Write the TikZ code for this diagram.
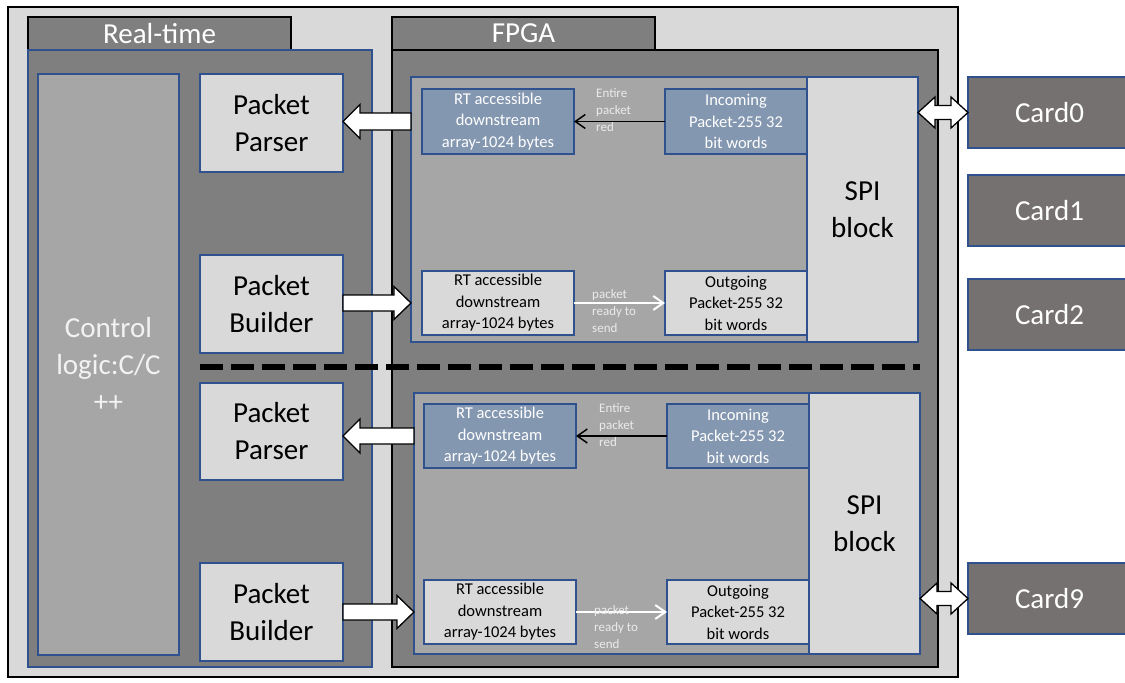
\documentclass[tikz,border=0pt]{standalone}
\usepackage{fontspec}
\setmainfont{Carlito}
\usepackage{xcolor}
\usepackage{tikz}
\usetikzlibrary{arrows.meta, calc}

\definecolor{lightgrey}{HTML}{D9D9D9}
\definecolor{darkgrey}{HTML}{7F7F7F}
\definecolor{midgrey}{HTML}{A6A6A6}
\definecolor{slateblue}{HTML}{8497B0}
\definecolor{cardgrey}{HTML}{767171}
\definecolor{edgeblue}{HTML}{2F528F}

\newcommand{\bigtxt}{\fontsize{29}{37}\selectfont}
\newcommand{\boxtxt}{\fontsize{16.5}{21.5}\selectfont}
\newcommand{\tinytxt}{\fontsize{13}{17}\selectfont}

% white block arrow: tail, tip, half shaft, half head, head length
\newcommand{\blockarrow}[5]{%
  \draw[blockarr] let \p1=#1, \p2=#2, \n1={sign(\x2-\x1)} in
    (\x1,\y1+#3) -- (\x2-\n1*#5,\y1+#3) -- (\x2-\n1*#5,\y1+#4) -- (\x2,\y1)
    -- (\x2-\n1*#5,\y1-#4) -- (\x2-\n1*#5,\y1-#3) -- (\x1,\y1-#3) -- cycle;}

% white double block arrow between two points
\newcommand{\dblarrow}[2]{%
  \draw[blockarr] let \p1=#1, \p2=#2 in
    (\x1,\y1) -- (\x1+17pt,\y1+15.5pt) -- (\x1+17pt,\y1+7pt) -- (\x2-17pt,\y1+7pt)
    -- (\x2-17pt,\y1+15.5pt) -- (\x2,\y1) -- (\x2-17pt,\y1-15.5pt)
    -- (\x2-17pt,\y1-7pt) -- (\x1+17pt,\y1-7pt) -- (\x1+17pt,\y1-15.5pt) -- cycle;}

\begin{document}
\begin{tikzpicture}[
  x=1pt, y=-1pt,
  box/.style={
    rectangle,
    anchor=north west,
    inner sep=0pt,
    outer sep=0pt,
    align=center
  },
  frame/.style={
    box,
    draw=black,
    line width=1.5pt
  },
  tab/.style={
    frame,
    fill=darkgrey,
    text=white,
    font=\bigtxt,
    minimum width=263,
    minimum height=33
  },
  panel/.style={
    box,
    draw=edgeblue,
    line width=1.3pt
  },
  module/.style={
    panel,
    fill=lightgrey,
    font=\bigtxt,
    minimum width=143
  },
  rtbox/.style={
    panel,
    font=\boxtxt,
    minimum width=152,
    minimum height=64
  },
  pktbox/.style={
    panel,
    font=\boxtxt,
    minimum width=142,
    minimum height=64
  },
  card/.style={
    panel,
    fill=cardgrey,
    text=white,
    font=\bigtxt,
    minimum width=163,
    minimum height=71
  },
  note/.style={
    anchor=west,
    align=left,
    inner sep=0pt,
    font=\tinytxt,
    text=white!92!black
  },
  readarr/.style={
    draw=black,
    line width=1.5pt,
    -{Straight Barb[length=10pt, width=14pt]}
  },
  sendarr/.style={
    draw=white,
    line width=2pt,
    -{Straight Barb[length=10pt, width=14pt]}
  },
  blockarr/.style={
    draw=black,
    fill=white,
    line width=1.3pt,
    line join=miter
  }
]
\useasboundingbox (0,0) rectangle (1125,683);

% -------------------------------------------------------------------
% outer frame and the two halves
% -------------------------------------------------------------------
\node[frame, fill=lightgrey, minimum width=950, minimum height=670] (outer) at (8,7) {};

\node[tab] (rttab) at (28,17) {Real-time};
\node[panel, fill=darkgrey, minimum width=344, minimum height=617] (rt) at (28,50) {};

\node[tab] (fpgatab) at (392,17) {FPGA};
\node[frame, fill=darkgrey, minimum width=546, minimum height=617] (fpga) at (392,50) {};

% -------------------------------------------------------------------
% Real-time side
% -------------------------------------------------------------------
\node[panel, fill=midgrey, text=white!95!black, font=\bigtxt,
  minimum width=141, minimum height=581] (ctrl) at (38,74)
{Control\\logic:C/C\\++};

\node[module, minimum height=98] (pp1) at (200,74) {Packet\\Parser};
\node[module, minimum height=98] (pb1) at (200,255) {Packet\\Builder};
\node[module, minimum height=97] (pp2) at (200,383) {Packet\\Parser};
\node[module, minimum height=98] (pb2) at (200,563) {Packet\\Builder};

% -------------------------------------------------------------------
% FPGA side, channel 0
% -------------------------------------------------------------------
\node[panel, fill=midgrey, minimum width=507, minimum height=265] (inner1) at (411,77) {};

\node[rtbox, fill=slateblue, text=white, minimum height=65] (rtin1) at (422,89)
{RT accessible\\downstream\\array-1024 bytes};
\node[pktbox, fill=slateblue, text=white, minimum height=65] (inc1) at (665,89)
{Incoming\\Packet-255 32\\bit words};

\node[rtbox, fill=lightgrey] (rtout1) at (422,271)
{RT accessible\\downstream\\array-1024 bytes};
\node[pktbox, fill=lightgrey] (out1) at (665,271)
{Outgoing\\Packet-255 32\\bit words};

\node[panel, fill=lightgrey, font=\bigtxt, minimum width=111, minimum height=265] (spi1) at (807,77)
{SPI\\block};

\draw[readarr] (inc1.west) -- (rtin1.east);
\node[note] (red1) at (596,110) {Entire\\packet\\red};
\draw[sendarr] (rtout1.east) -- (out1.west);
\node[note] (rdy1) at (592,311) {packet\\ready to\\send};

% -------------------------------------------------------------------
% FPGA side, channel 9
% -------------------------------------------------------------------
\node[panel, fill=midgrey, minimum width=506, minimum height=261] (inner2) at (414,393) {};

\node[rtbox, fill=slateblue, text=white] (rtin2) at (424,404)
{RT accessible\\downstream\\array-1024 bytes};
\node[pktbox, fill=slateblue, text=white] (inc2) at (667,404)
{Incoming\\Packet-255 32\\bit words};

\node[rtbox, fill=lightgrey] (rtout2) at (424,580)
{RT accessible\\downstream\\array-1024 bytes};
\node[pktbox, fill=lightgrey] (out2) at (667,580)
{Outgoing\\Packet-255 32\\bit words};

\node[panel, fill=lightgrey, font=\bigtxt, minimum width=111, minimum height=261] (spi2) at (809,393)
{SPI\\block};

\draw[readarr] (inc2.west) -- (rtin2.east);
\node[note] (red2) at (599,425) {Entire\\packet\\red};
\draw[sendarr] (rtout2.east) -- (out2.west);
\node[note] (rdy2) at (594,627) {packet\\ready to\\send};

% separator between the channels
\coordinate (sepL) at (200,367);
\coordinate (sepR) at (920,367);
\draw[black, line width=6pt, dash pattern=on 23pt off 8pt] (sepL) -- (sepR);

% -------------------------------------------------------------------
% block arrows between Real-time and FPGA
% -------------------------------------------------------------------
\blockarrow{(inner1.west |- rtin1.center)}{(pp1.east |- rtin1.center)}{8.5pt}{17pt}{17pt}
\blockarrow{(pb1.east |- rtout1.center)}{(inner1.west |- rtout1.center)}{8pt}{16.5pt}{17pt}
\blockarrow{(inner2.west |- rtin2.center)}{(pp2.east |- rtin2.center)}{8pt}{17pt}{17pt}
\blockarrow{(pb2.east |- rtout2.center)}{(inner2.west |- rtout2.center)}{8pt}{16.5pt}{17pt}

% -------------------------------------------------------------------
% cards
% -------------------------------------------------------------------
\node[card] (card0) at (968,77) {Card0};
\node[card] (card1) at (968,175) {Card1};
\node[card] (card2) at (968,279) {Card2};
\node[card] (card9) at (968,563) {Card9};

\dblarrow{(spi1.east |- card0.west)}{(card0.west)}
\dblarrow{(spi2.east |- card9.west)}{(card9.west)}

\end{tikzpicture}
\end{document}
